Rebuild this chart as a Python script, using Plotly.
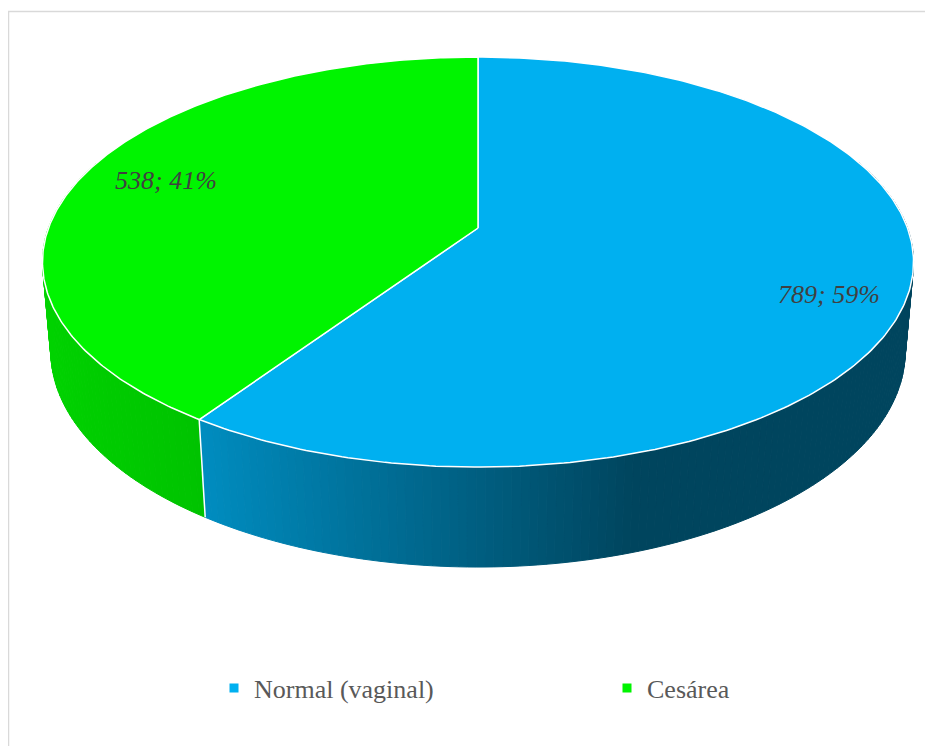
import numpy as np
import plotly.graph_objects as go

# ---- data ----
categories = ["Normal (vaginal)", "Cesárea"]
values = [789, 538]
top_colors = ["#00B0F0", "#00F400"]
base_rgb = [(0, 176, 240), (0, 244, 0)]

# ---- page / projection constants (page pixels) ----
PAGE_W, PAGE_H = 933, 754
BODY = 8                         # default html body margin
FIG_W, FIG_H = PAGE_W - 2 * BODY, PAGE_H - 2 * BODY
CX, CY = 478.0, 228.0            # projected pie centre
A, B = 429.5, 199.4              # horizontal / depth scale
C = 89.8                         # thickness
E, F = 0.166, 0.019              # perspective terms


def proj(theta, r=1.0, h=0.0):
    """theta in degrees clockwise from 12 o'clock; r radius fraction; h 0=top 1=bottom"""
    t = np.radians(theta)
    u = r * np.sin(t)
    v = -r * np.cos(t)
    w = 1.0 - E * v + F * h
    return CX + A * u / w, CY + (B * v + C * h) / w


def shade(u):
    return float(np.interp(u, [-1.0, -0.56, 0.31, 1.0], [0.87, 0.80, 0.39, 0.39]))


total = float(sum(values))
fracs = [v / total for v in values]
starts = np.concatenate([[0.0], np.cumsum(fracs)[:-1]]) * 360.0
ends = np.cumsum(fracs) * 360.0

fig = go.Figure()

# ---- side wall strips (painter's order back -> front) ----
strips = []
for i in range(len(values)):
    a0, a1 = starts[i], ends[i]
    n = max(2, int(np.ceil((a1 - a0) / 1.0)))
    edges = np.linspace(a0, a1, n + 1)
    for k in range(n):
        t0, t1 = edges[k], edges[k + 1]
        tm = 0.5 * (t0 + t1)
        vm = -np.cos(np.radians(tm))
        if vm < -0.35:
            continue
        um = np.sin(np.radians(tm))
        s = shade(um)
        rgb = tuple(int(round(c * s)) for c in base_rgb[i])
        col = "rgb(%d,%d,%d)" % rgb
        strips.append((vm, t0, t1, col))

strips.sort(key=lambda z: z[0])
for vm, t0, t1, col in strips:
    xa, ya = proj(t0, 1, 0)
    xb, yb = proj(t1, 1, 0)
    xc, yc = proj(t1, 1, 1)
    xd, yd = proj(t0, 1, 1)
    fig.add_trace(go.Scatter(
        x=[xa, xb, xc, xd, xa], y=[ya, yb, yc, yd, ya],
        mode="lines", fill="toself", fillcolor=col,
        line=dict(color=col, width=1), hoverinfo="skip", showlegend=False))

# white edges where slices meet on the side wall
for a in list(starts) + [360.0]:
    v = -np.cos(np.radians(a))
    if v > 0.2:
        x0, y0 = proj(a, 1, 0)
        x1, y1 = proj(a, 1, 1)
        fig.add_trace(go.Scatter(x=[x0, x1], y=[y0, y1], mode="lines",
                                 line=dict(color="white", width=1.5),
                                 hoverinfo="skip", showlegend=False))

# ---- top faces ----
for i in range(len(values)):
    th = np.linspace(starts[i], ends[i], 300)
    xs, ys = proj(th, 1, 0)
    cx0, cy0 = proj(0.0, 0.0, 0)
    X = np.concatenate([[cx0], xs, [cx0]])
    Y = np.concatenate([[cy0], ys, [cy0]])
    fig.add_trace(go.Scatter(
        x=X, y=Y, mode="lines", fill="toself", fillcolor=top_colors[i],
        line=dict(color="white", width=1.5), hoverinfo="skip", showlegend=False))

# ---- legend entries (one legend per entry, to reproduce the wide spacing) ----
legend_ids = ["legend", "legend2"]
for i in range(len(values)):
    fig.add_trace(go.Scatter(
        x=[None], y=[None], mode="markers", name=categories[i],
        marker=dict(symbol="square", size=9, color=top_colors[i]),
        legend=legend_ids[i], showlegend=True))

# ---- data labels ----
label_r = [0.82, 0.79]
label_shift = [-17, 3]
for i in range(len(values)):
    mid = 0.5 * (starts[i] + ends[i])
    lx, ly = proj(mid, label_r[i], 0)
    fig.add_annotation(
        x=lx, y=ly, xref="x", yref="y", showarrow=False,
        text="%d; %d%%" % (values[i], round(fracs[i] * 100)),
        yshift=label_shift[i],
        font=dict(family="Liberation Serif", size=26, color="#404040", style="italic"))

fig.add_shape(type="rect", xref="x", yref="y", x0=8.5, y0=11.5,
              x1=PAGE_W + 20, y1=PAGE_H + 20,
              line=dict(color="#D9D9D9", width=1.5), layer="below")

leg_font = dict(family="Liberation Serif", size=26, color="#595959")
leg_y = 1 - (688 - BODY) / FIG_H
fig.update_layout(
    width=FIG_W, height=FIG_H,
    margin=dict(l=0, r=0, t=0, b=0),
    paper_bgcolor="white", plot_bgcolor="white",
    xaxis=dict(range=[BODY, BODY + FIG_W], visible=False, fixedrange=True),
    yaxis=dict(range=[BODY + FIG_H, BODY], visible=False, fixedrange=True),
    showlegend=True,
    legend=dict(orientation="h", x=(214 - BODY) / FIG_W, y=leg_y,
                xanchor="left", yanchor="middle", font=leg_font, itemwidth=30,
                bgcolor="rgba(0,0,0,0)"),
    legend2=dict(orientation="h", x=(607 - BODY) / FIG_W, y=leg_y,
                 xanchor="left", yanchor="middle", font=leg_font, itemwidth=30,
                 bgcolor="rgba(0,0,0,0)"),
)

fig.write_html("out.html")
